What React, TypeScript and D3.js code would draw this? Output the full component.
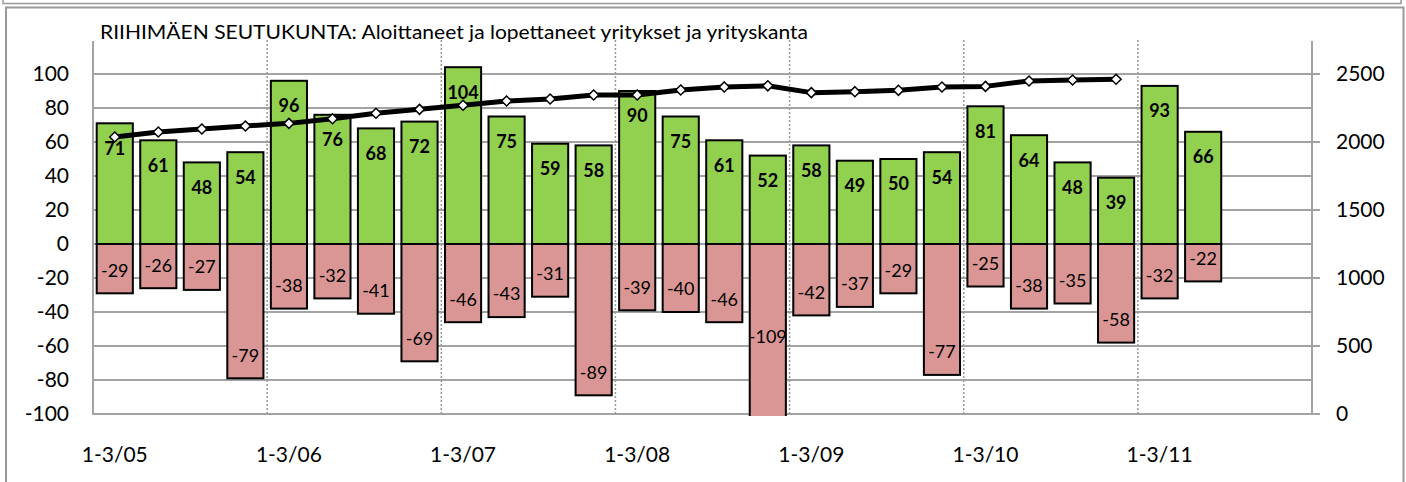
import React from "react";
import * as d3 from "d3";

const categories = [
  "1-3/05", "4-6/05", "7-9/05", "10-12/05",
  "1-3/06", "4-6/06", "7-9/06", "10-12/06",
  "1-3/07", "4-6/07", "7-9/07", "10-12/07",
  "1-3/08", "4-6/08", "7-9/08", "10-12/08",
  "1-3/09", "4-6/09", "7-9/09", "10-12/09",
  "1-3/10", "4-6/10", "7-9/10", "10-12/10",
  "1-3/11", "4-6/11", "7-9/11", "10-12/11",
];
const started = [71, 61, 48, 54, 96, 76, 68, 72, 104, 75, 59, 58, 90, 75, 61, 52, 58, 49, 50, 54, 81, 64, 48, 39, 93, 66];
const ended = [-29, -26, -27, -79, -38, -32, -41, -69, -46, -43, -31, -89, -39, -40, -46, -109, -42, -37, -29, -77, -25, -38, -35, -58, -32, -22];
const stock = [2037, 2074, 2096, 2118, 2137, 2171, 2211, 2240, 2270, 2301, 2316, 2346, 2346, 2382, 2405, 2413, 2363, 2370, 2380, 2404, 2409, 2449, 2456, 2461];
const leftTicks = [-100, -80, -60, -40, -20, 0, 20, 40, 60, 80, 100];
const rightTicks = [0, 500, 1000, 1500, 2000, 2500];
const xTickLabels = ["1-3/05", "1-3/06", "1-3/07", "1-3/08", "1-3/09", "1-3/10", "1-3/11"];
const title = "RIIHIMÄEN SEUTUKUNTA: Aloittaneet ja lopettaneet yritykset ja yrityskanta";

const FONT = "Lato, 'Open Sans', sans-serif";

export default function App() {
  const W = 1406, H = 482;
  const left = 93, right = 1312, top = 40, bottom = 414;
  const x = d3.scaleBand<string>().domain(categories).range([left, right]).paddingInner(0.17).paddingOuter(0.085);
  const xc = (i: number) => left + (i + 0.5) * ((right - left) / categories.length);
  const y = d3.scaleLinear().domain([-100, 120]).range([bottom, top]);
  const y2 = d3.scaleLinear().domain([0, 2750]).range([bottom, top]);
  const bw = x.bandwidth();
  const step = (right - left) / categories.length;
  const line = d3.line<number>().x((_, i) => xc(i)).y((d) => y2(d));
  const grid = "#a3a3a3";

  return (
    <svg width={W} height={H} style={{ position: "absolute", left: 0, top: 0, background: "#fff" }} fontFamily={FONT}>
      <defs>
        <clipPath id="plotclip">
          <rect x={left - 10} y={top} width={right - left + 20} height={bottom - top + 2} />
        </clipPath>
      </defs>
      {/* frames */}
      <path d={`M3,0 V3.5 H1401 V0`} fill="none" stroke="#999" strokeWidth={1.5} />
      <path d={`M6,${H + 2} V7.5 H1403.5 V${H + 2}`} fill="none" stroke="#999" strokeWidth={2} />

      <text x={100} y={39} fontSize={19.5} textLength={708} lengthAdjust="spacingAndGlyphs" fill="#000">{title}</text>

      {/* gridlines */}
      {leftTicks.map((t) => (
        <line key={"g" + t} x1={left} x2={right} y1={y(t)} y2={y(t)} stroke={grid} strokeWidth={2} />
      ))}
      {/* vertical dotted year separators */}
      {categories.map((c, i) =>
        i > 0 && i % 4 === 0 ? (
          <line key={"v" + c} x1={left + i * step} x2={left + i * step} y1={top} y2={bottom} stroke="#999" strokeWidth={1.5} strokeDasharray="2,2" />
        ) : null
      )}
      {/* axes */}
      <line x1={left} x2={left} y1={top + 1} y2={bottom + 1} stroke={grid} strokeWidth={2} />
      <line x1={right} x2={right} y1={top + 1} y2={bottom + 1} stroke={grid} strokeWidth={2} />
      {rightTicks.map((t) => (
        <line key={"rt" + t} x1={right} x2={right + 8} y1={y2(t)} y2={y2(t)} stroke={grid} strokeWidth={2} />
      ))}

      {/* bars */}
      <g clipPath="url(#plotclip)">
        {started.map((v, i) => (
          <rect key={"s" + i} x={x(categories[i])} y={y(v)} width={bw} height={y(0) - y(v)} fill="#92d050" stroke="#000" strokeWidth={2} />
        ))}
        {ended.map((v, i) => (
          <rect key={"e" + i} x={x(categories[i])} y={y(0)} width={bw} height={y(v) - y(0)} fill="#da9694" stroke="#000" strokeWidth={2} />
        ))}
      </g>

      {/* line */}
      <path d={line(stock) || ""} fill="none" stroke="#000" strokeWidth={5} strokeLinejoin="round" />
      {stock.map((v, i) => {
        const cx = xc(i), cy = y2(v), r = 5;
        return <path key={"m" + i} d={`M${cx},${cy - r}L${cx + r},${cy}L${cx},${cy + r}L${cx - r},${cy}Z`} fill="#fff" stroke="#000" strokeWidth={1.5} />;
      })}

      {/* labels */}
      {started.map((v, i) => (
        <text key={"sl" + i} x={xc(i)} y={y(v) + 25} dy="0.35em" textAnchor="middle" fontSize={18} fontWeight="bold">{v}</text>
      ))}
      {ended.map((v, i) => {
        const ly = v < -100 ? y(v / 2) : y(v) - 23;
        return <text key={"el" + i} x={xc(i)} y={ly} dy="0.35em" textAnchor="middle" fontSize={18}>{v}</text>;
      })}

      {/* tick labels */}
      {leftTicks.map((t) => (
        <text key={"lt" + t} x={69} y={y(t)} dy="0.35em" textAnchor="end" fontSize={21}>{t}</text>
      ))}
      {rightTicks.map((t) => (
        <text key={"rl" + t} x={1336} y={y2(t)} dy="0.35em" textAnchor="start" fontSize={21}>{t}</text>
      ))}
      {xTickLabels.map((l) => {
        const i = categories.indexOf(l);
        return <text key={"xl" + l} x={xc(i)} y={455} dy="0.35em" textAnchor="middle" fontSize={21}>{l}</text>;
      })}
    </svg>
  );
}
